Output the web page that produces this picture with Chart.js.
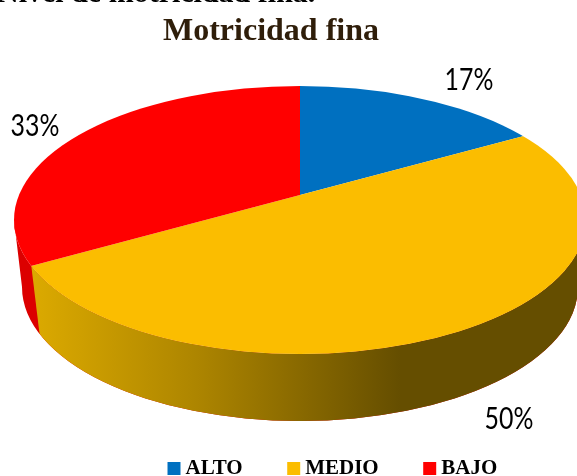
<!DOCTYPE html>
<html>
<head>
<meta charset="utf-8">
<style>
  html, body { margin: 0; padding: 0; background: #fff; overflow: hidden; }
  canvas { display: block; }
</style>
<script src="https://cdn.jsdelivr.net/npm/chart.js@4"></script>
</head>
<body>
<canvas id="pie" width="577" height="476"></canvas>
<script>
const categories = ['ALTO', 'MEDIO', 'BAJO'];
const values = [17, 50, 33];
const sliceColors = ['#0070c0', '#fbbd00', '#ff0000'];

// pie projection, the centre sits above the middle of the rim
const hub = { x: 300, y: 195, radius: 345, squash: 0.48 };
const rim = { x: 300, y: 220, rx: 286, ry: 134 };
const base = { x: 300, y: 287, rx: 278, ry: 134 };
const labelSpots = [[469, 90], [509, 429], [35, 136]];

function rimPoint(angle) {
  // ray from the hub out to the rim ellipse
  const dx = Math.cos(angle), dy = Math.sin(angle) * hub.squash;
  const ox = (hub.x - rim.x) / rim.rx, oy = (hub.y - rim.y) / rim.ry;
  const ax = dx / rim.rx, ay = dy / rim.ry;
  const a = ax * ax + ay * ay, b = 2 * (ox * ax + oy * ay), c = ox * ox + oy * oy - 1;
  const t = (-b + Math.sqrt(b * b - 4 * a * c)) / (2 * a);
  return { x: hub.x + dx * t, y: hub.y + dy * t };
}

function wallPath(ctx) {
  ctx.beginPath();
  ctx.ellipse(rim.x, rim.y, rim.rx, rim.ry, 0, Math.PI, 0, true);
  ctx.lineTo(base.x + base.rx, base.y);
  ctx.ellipse(base.x, base.y, base.rx, base.ry, 0, 0, Math.PI, false);
  ctx.closePath();
}

const pie3d = {
  id: 'pie3d',
  afterLayout(chart) {
    const t = chart.titleBlock, l = chart.legend;
    t.left = 0; t.right = 542; t.top = 13; t.bottom = 53;
    l.left = 123; l.right = 577; l.top = 408; l.bottom = 476;
  },
  beforeDatasetsDraw(chart) {
    const ctx = chart.ctx;
    const arcs = chart.getDatasetMeta(0).data;
    const seamTop = rimPoint(arcs[1].endAngle);
    const seamBottom = {
      x: base.x + (seamTop.x - rim.x) * base.rx / rim.rx,
      y: base.y + (seamTop.y - rim.y) - 5
    };

    // side wall
    ctx.save();
    wallPath(ctx);
    ctx.fillStyle = '#dc0000';
    ctx.fill();
    ctx.beginPath();
    ctx.moveTo(seamTop.x, seamTop.y);
    ctx.lineTo(seamBottom.x, seamBottom.y);
    ctx.lineTo(seamBottom.x + 20, 480);
    ctx.lineTo(600, 480);
    ctx.lineTo(600, 150);
    ctx.lineTo(seamTop.x, 150);
    ctx.closePath();
    ctx.clip();
    const g = ctx.createLinearGradient(31, 0, 400, 0);
    g.addColorStop(0, '#dcaa00');
    g.addColorStop(0.45, '#ad8500');
    g.addColorStop(0.75, '#866700');
    g.addColorStop(1, '#654e00');
    wallPath(ctx);
    ctx.fillStyle = g;
    ctx.fill();
    ctx.restore();

    // top face: library arcs, squashed and cut by the rim
    const arc = arcs[0];
    const s = hub.radius / arc.outerRadius;
    ctx.save();
    ctx.beginPath();
    ctx.ellipse(rim.x, rim.y, rim.rx, rim.ry, 0, 0, Math.PI * 2);
    ctx.clip();
    ctx.translate(hub.x, hub.y);
    ctx.scale(s, s * hub.squash);
    ctx.translate(-arc.x, -arc.y);
  },
  afterDatasetsDraw(chart) {
    chart.ctx.restore();
  },
  afterDraw(chart) {
    const ctx = chart.ctx;
    ctx.save();
    ctx.fillStyle = '#000';
    ctx.textBaseline = 'alphabetic';
    ctx.font = 'bold 30px "Liberation Serif"';
    ctx.textAlign = 'left';
    ctx.fillText('Nivel de motricidad fina.', -3, 2);
    ctx.font = '30px Lato';
    ctx.textAlign = 'center';
    values.forEach((v, i) => {
      ctx.save();
      ctx.translate(labelSpots[i][0], labelSpots[i][1]);
      ctx.scale(0.83, 1);
      ctx.fillText(v + '%', 0, 0);
      ctx.restore();
    });
    ctx.restore();
  }
};

new Chart(document.getElementById('pie'), {
  type: 'pie',
  data: {
    labels: categories,
    datasets: [{ data: values, backgroundColor: sliceColors, borderWidth: 0, clip: false }]
  },
  options: {
    responsive: false,
    animation: false,
    devicePixelRatio: 1,
    plugins: {
      tooltip: { enabled: false },
      title: {
        display: true,
        text: 'Motricidad fina',
        color: '#2f1e0a',
        font: { family: '"Liberation Serif"', size: 32, weight: 'bold' },
        padding: 0
      },
      legend: {
        position: 'bottom',
        align: 'start',
        labels: {
          usePointStyle: true,
          pointStyle: 'rect',
          boxWidth: 2,
          boxHeight: 13,
          padding: 50,
          color: '#000',
          font: { family: '"Liberation Serif"', size: 21, weight: 'bold' }
        }
      }
    }
  },
  plugins: [pie3d]
});
</script>
</body>
</html>
